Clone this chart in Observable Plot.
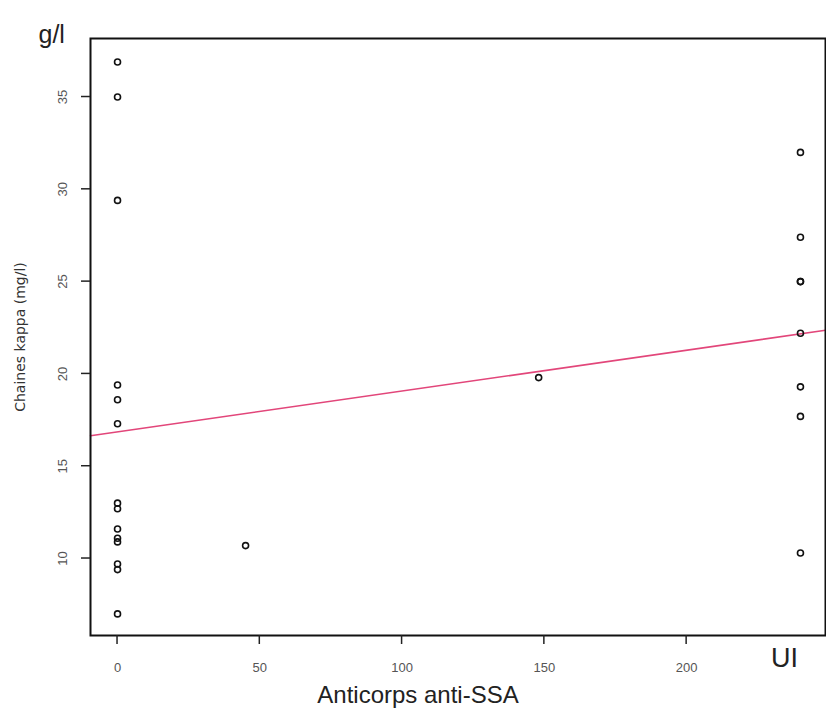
<!DOCTYPE html>
<html>
<head>
<meta charset="utf-8">
<script src="https://cdn.jsdelivr.net/npm/d3@7"></script>
<script src="https://cdn.jsdelivr.net/npm/@observablehq/plot@0.6"></script>
<style>
  html, body { margin: 0; padding: 0; background: #fff; }
  #chart svg { display: block; }
</style>
</head>
<body>
<div id="chart"></div>
<script>
// Anti-SSA antibodies (UI) and kappa light chains (mg/l)
const antiSSA = [0, 0, 0, 0, 0, 0, 0, 0, 0, 0, 0, 0, 0, 0,
                 45, 148,
                 240, 240, 240, 240, 240, 240, 240, 240];
const kappa   = [36.9, 35.0, 29.4, 19.4, 18.6, 17.3, 13.0, 12.7, 11.6, 11.1, 10.9, 9.7, 9.4, 7.0,
                 10.7, 19.8,
                 32.0, 27.4, 25.0, 25.0, 22.2, 19.3, 17.7, 10.3];
const xTicks = [0, 50, 100, 150, 200];
const yTicks = [10, 15, 20, 25, 30, 35];
const xDomain = [-9.5, 248.8];
const yDomain = [5.83, 38.17];

const points = antiSSA.map((x, i) => ({x, y: kappa[i]}));

// least-squares fit (abline(lm(kappa ~ antiSSA)))
const mx = d3.mean(antiSSA), my = d3.mean(kappa);
const slope = d3.sum(antiSSA, (x, i) => (x - mx) * (kappa[i] - my)) / d3.sum(antiSSA, x => (x - mx) ** 2);
const intercept = my - slope * mx;
const fitLine = xDomain.map(x => ({x, y: intercept + slope * x}));

const font = "Liberation Sans, Arial, sans-serif";
const M = {left: 90, right: 1, top: 38, bottom: 83};

const chart = Plot.plot({
  width: 826,
  height: 718,
  marginLeft: M.left,
  marginRight: M.right,
  marginTop: M.top,
  marginBottom: M.bottom,
  style: {fontFamily: font},
  x: {domain: xDomain, label: null, axis: null},
  y: {domain: yDomain, label: null, axis: null},
  marks: [
    Plot.line(fitLine, {x: "x", y: "y", stroke: "#e2467a", strokeWidth: 1.6}),
    Plot.dot(points, {x: "x", y: "y", r: 3, stroke: "#111", strokeWidth: 1.6, fill: "none"}),
    Plot.frame({stroke: "#111", strokeWidth: 2}),
    Plot.text(xTicks, {x: d => d, frameAnchor: "bottom", dy: 32, lineAnchor: "middle", textAnchor: "middle", text: d => String(d), fontSize: 13, fill: "#555"}),
    Plot.text(yTicks, {y: d => d, frameAnchor: "left", dx: -28, rotate: -90, lineAnchor: "middle", textAnchor: "middle", text: d => String(d), fontSize: 13, fill: "#555"}),
    Plot.text(["g/l"], {frameAnchor: "top-left", dx: -52, dy: -13, text: d => d, fontSize: 25, fill: "#222", textAnchor: "start"}),
    Plot.text(["UI"], {frameAnchor: "bottom-right", dx: -41, dy: 31, text: d => d, fontSize: 27, fill: "#222", textAnchor: "middle"}),
    Plot.text(["Anticorps anti-SSA"], {frameAnchor: "bottom", dx: -40, dy: 67, text: d => d, fontSize: 24, fill: "#222", textAnchor: "middle"}),
    Plot.text(["Chaines kappa (mg/l)"], {frameAnchor: "left", dx: -70, dy: 0, rotate: -90, lineAnchor: "middle", textAnchor: "middle", text: d => d, fontSize: 14, fontFamily: "DejaVu Sans", fill: "#333"})
  ]
});

// outward tick marks (R style), positioned through Plot's own scales
const sx = chart.scale("x"), sy = chart.scale("y");
const svg = d3.select(chart);
const bottom = 718 - M.bottom, left = M.left;
const g = svg.append("g").attr("stroke", "#222").attr("stroke-width", 1.5);
g.selectAll("line.xt").data(xTicks).join("line")
  .attr("class", "xt")
  .attr("x1", d => sx.apply(d)).attr("x2", d => sx.apply(d))
  .attr("y1", bottom).attr("y2", bottom + 9);
g.selectAll("line.yt").data(yTicks).join("line")
  .attr("class", "yt")
  .attr("y1", d => sy.apply(d)).attr("y2", d => sy.apply(d))
  .attr("x1", left).attr("x2", left - 9);

document.getElementById("chart").appendChild(chart);
</script>
</body>
</html>
